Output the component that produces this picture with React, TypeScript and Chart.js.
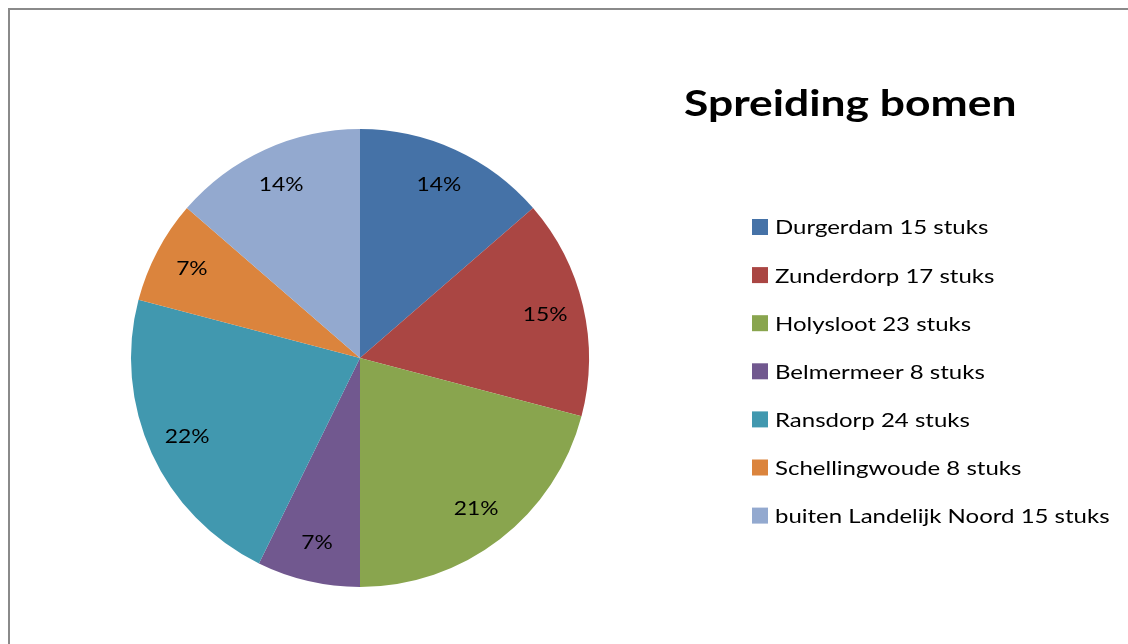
import React, { useEffect, useRef } from "react";
import { Chart, registerables } from "chart.js";

Chart.register(...registerables);

const titleText = "Spreiding bomen";
const categories = [
  "Durgerdam 15 stuks",
  "Zunderdorp 17 stuks",
  "Holysloot 23 stuks",
  "Belmermeer 8 stuks",
  "Ransdorp 24 stuks",
  "Schellingwoude 8 stuks",
  "buiten Landelijk Noord 15 stuks",
];
const values = [15, 17, 23, 8, 24, 8, 15];
const colors = ["#4572A7", "#AA4643", "#89A54E", "#71588F", "#4198AF", "#DB843D", "#93A9CF"];

const FONT = "Lato, 'Open Sans', sans-serif";
const SX = 1.2;

function stretchedText(
  ctx: CanvasRenderingContext2D,
  text: string,
  x: number,
  y: number,
  align: "left" | "center"
) {
  ctx.save();
  ctx.translate(x, y);
  ctx.scale(SX, 1);
  ctx.textAlign = align;
  ctx.fillText(text, 0, 0);
  ctx.restore();
}

const framePlugin = {
  id: "frame",
  beforeDraw(chart: any) {
    const ctx = chart.ctx as CanvasRenderingContext2D;
    ctx.save();
    ctx.fillStyle = "#fff";
    ctx.fillRect(0, 0, chart.width, chart.height);
    ctx.fillStyle = "#8a8a8a";
    ctx.fillRect(8, 8, chart.width - 8, 2);
    ctx.fillRect(8, 8, 2, chart.height - 8);
    ctx.restore();
  },
};

const overlayPlugin = {
  id: "overlay",
  afterDatasetsDraw(chart: any) {
    const ctx = chart.ctx as CanvasRenderingContext2D;
    const meta = chart.getDatasetMeta(0);
    const total = values.reduce((a, b) => a + b, 0);
    ctx.save();
    ctx.fillStyle = "#000";
    ctx.font = `19px ${FONT}`;
    ctx.textBaseline = "middle";
    meta.data.forEach((arc: any, i: number) => {
      const { x, y, startAngle, endAngle, outerRadius } = arc.getProps(
        ["x", "y", "startAngle", "endAngle", "outerRadius"],
        true
      );
      const mid = (startAngle + endAngle) / 2;
      const r = outerRadius * 0.83;
      const pct = Math.round((values[i] / total) * 100) + "%";
      stretchedText(ctx, pct, x + Math.cos(mid) * r, y + Math.sin(mid) * r, "center");
    });
    ctx.font = `bold 37px ${FONT}`;
    ctx.textBaseline = "alphabetic";
    stretchedText(ctx, titleText, 684, 116, "left");
    ctx.font = `20px ${FONT}`;
    ctx.textBaseline = "middle";
    categories.forEach((c, i) => {
      const cy = 227 + i * 48.1;
      ctx.fillStyle = colors[i];
      ctx.fillRect(752, cy - 8, 16, 16);
      ctx.fillStyle = "#000";
      stretchedText(ctx, c, 775, cy + 1, "left");
    });
    ctx.restore();
  },
};

export default function App() {
  const ref = useRef<HTMLCanvasElement | null>(null);
  useEffect(() => {
    document.body.style.margin = "0";
    document.body.style.overflow = "hidden";
    const chart = new Chart(ref.current!, {
      type: "pie",
      data: {
        labels: categories,
        datasets: [
          {
            data: values,
            backgroundColor: colors,
            borderWidth: 0,
          },
        ],
      },
      options: {
        animation: false,
        responsive: false,
        events: [],
        layout: { padding: { left: 131, right: 539, top: 129, bottom: 57 } },
        plugins: {
          legend: { display: false },
          title: { display: false },
          tooltip: { enabled: false },
        },
      },
      plugins: [framePlugin, overlayPlugin],
    });
    return () => chart.destroy();
  }, []);
  return (
    <div style={{ position: "absolute", left: 0, top: 0, width: 1128, height: 644, overflow: "hidden" }}>
      <canvas ref={ref} width={1128} height={644} style={{ display: "block" }} />
    </div>
  );
}
